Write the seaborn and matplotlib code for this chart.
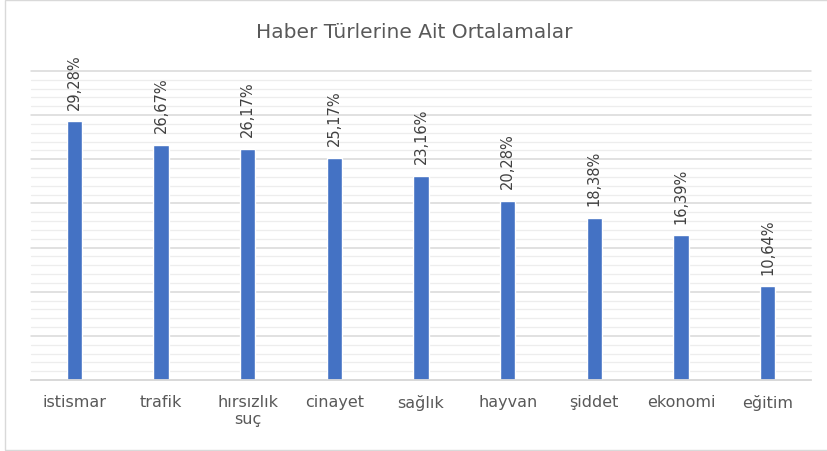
import pandas as pd
import matplotlib.pyplot as plt
import seaborn as sns
from matplotlib.patches import Rectangle
from matplotlib.ticker import MultipleLocator

# Veriler
categories = ['istismar', 'trafik', 'hırsızlık\nsuç', 'cinayet', 'sağlık',
              'hayvan', 'şiddet', 'ekonomi', 'eğitim']
values = [29.28, 26.67, 26.17, 25.17, 23.16, 20.28, 18.38, 16.39, 10.64]
value_labels = ['29,28%', '26,67%', '26,17%', '25,17%', '23,16%',
                '20,28%', '18,38%', '16,39%', '10,64%']

df = pd.DataFrame({'tur': categories, 'ortalama': values})

sns.set_style('white')
plt.rcParams['font.family'] = ['DejaVu Sans']

fig = plt.figure(figsize=(8.28, 4.52), dpi=100)
ax = fig.add_axes([31/828, 71/452, 780/828, 309/452])

sns.barplot(data=df, x='tur', y='ortalama', color='#4472C4', width=0.18,
            saturation=1, ax=ax)

# Veri etiketleri
for i, v in enumerate(values):
    ax.annotate(value_labels[i], (i, v), xytext=(0, 9), textcoords='offset points',
                rotation=90, ha='center', va='bottom', fontsize=10.5, color='#404040')

# Eksen ve izgaralar
ax.set_xlim(-0.5, len(categories) - 0.5)
ax.set_ylim(0, 35)
ax.yaxis.set_major_locator(MultipleLocator(5))
ax.yaxis.set_minor_locator(MultipleLocator(1))
ax.grid(which='major', axis='y', color='#D9D9D9', lw=1.1)
ax.grid(which='minor', axis='y', color='#EDEDED', lw=0.9)
ax.set_axisbelow(True)
for t in ax.yaxis.get_major_ticks() + ax.yaxis.get_minor_ticks():
    t.gridline.set_clip_on(False)
ax.tick_params(axis='y', which='both', left=False, labelleft=False)
ax.tick_params(axis='x', length=0, pad=10, labelsize=11.5, labelcolor='#595959')
ax.set_xlabel('')
ax.set_ylabel('')
for s in ['top', 'left', 'right']:
    ax.spines[s].set_visible(False)
ax.spines['bottom'].set_color('#D9D9D9')
ax.spines['bottom'].set_linewidth(1.3)

fig.text(0.5, 0.929, 'Haber Türlerine Ait Ortalamalar', ha='center', va='center',
         fontsize=14.5, color='#595959')

# Grafik alani cercevesi
fig.patches.append(Rectangle((5/828, 1/452), 1.0, 450/452, transform=fig.transFigure,
                             fill=False, edgecolor='#D9D9D9', lw=1))

fig.savefig('out.png', dpi=100)
plt.close()
